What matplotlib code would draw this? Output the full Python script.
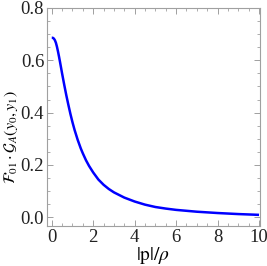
import numpy as np
import matplotlib
matplotlib.use("Agg")
import matplotlib.pyplot as plt
from matplotlib.ticker import MultipleLocator

# values
p_over_rho = [0.0, 0.05, 0.1, 0.15, 0.2, 0.25, 0.3, 0.35, 0.4, 0.45, 0.5, 0.6,
              0.7, 0.8, 0.9, 1.0, 1.1, 1.25, 1.4, 1.5, 1.65, 1.8, 2.0, 2.25,
              2.5, 2.75, 3.0, 3.5, 4.0, 4.5, 5.0, 5.5, 6.0, 7.0, 8.0, 9.0, 10.0]
f_dot_g = [0.686, 0.686, 0.683, 0.677, 0.667, 0.652, 0.634, 0.614, 0.593,
           0.571, 0.549, 0.507, 0.467, 0.430, 0.395, 0.363, 0.334, 0.296,
           0.263, 0.244, 0.218, 0.196, 0.171, 0.144, 0.124, 0.108, 0.095,
           0.075, 0.060, 0.048, 0.039, 0.033, 0.028, 0.021, 0.016, 0.012,
           0.009]

plt.rcParams['font.family'] = 'serif'
plt.rcParams['font.serif'] = ['Liberation Serif', 'DejaVu Serif']
plt.rcParams['mathtext.fontset'] = 'stix'

fig = plt.figure(figsize=(2.67, 2.66), dpi=100)
ax = fig.add_axes([0.176, 0.150, 0.798, 0.820])

ax.plot(p_over_rho, f_dot_g, color=(0, 0, 1), lw=1.8, solid_capstyle='butt')

ax.set_xlim(-0.23, 10.05)
ax.set_ylim(-0.034, 0.8)
ax.xaxis.set_major_locator(MultipleLocator(2))
ax.xaxis.set_minor_locator(MultipleLocator(0.5))
ax.yaxis.set_major_locator(MultipleLocator(0.2))
ax.yaxis.set_minor_locator(MultipleLocator(0.05))
ax.yaxis.set_major_formatter(plt.FuncFormatter(lambda v, _: f"{v:.1f}"))

frame_col = '#a0a0a0'
for s in ax.spines.values():
    s.set_color(frame_col)
    s.set_linewidth(0.8)
ax.tick_params(which='both', direction='in', top=True, right=True,
               color=frame_col, labelsize=13.5, labelcolor='#222222')
ax.tick_params(which='major', length=4, width=0.7, pad=2)
ax.tick_params(which='minor', length=2, width=0.6)

ax.set_xlabel(r'$|\mathrm{p}|/\rho$', fontsize=14)
ax.xaxis.set_label_coords(0.5, -0.087)
ax.set_ylabel(r'$\mathcal{F}_{01}\cdot\mathcal{G}_A(y_0,y_1)$', fontsize=11.5)
ax.yaxis.set_label_coords(-0.125, 0.41)

fig.savefig("out.png", dpi=100)
